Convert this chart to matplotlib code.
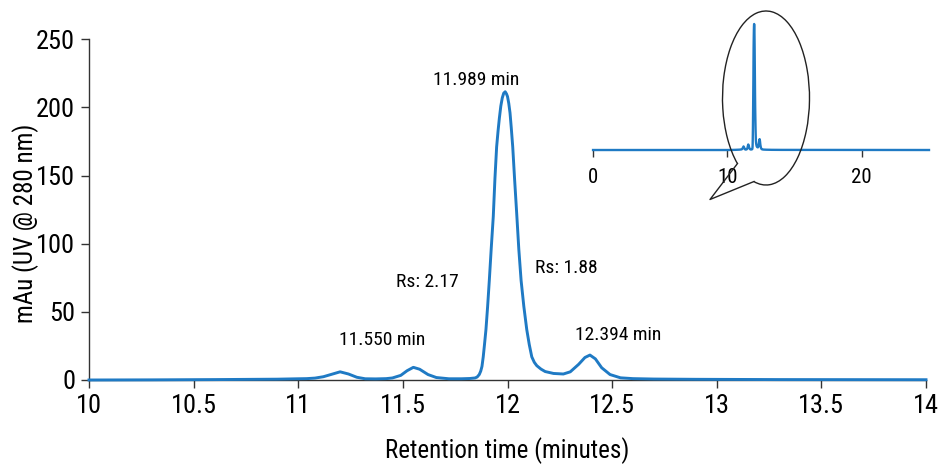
import numpy as np
import matplotlib
matplotlib.use("Agg")
import matplotlib.pyplot as plt
from matplotlib.patches import Arc
from matplotlib import font_manager

# pick a narrow sans face if one is around
names = {f.name for f in font_manager.fontManager.ttflist}
narrow = [n for n in ['DejaVu Sans Condensed', 'Liberation Sans Narrow', 'Roboto Condensed',
                      'Open Sans Condensed', 'Liberation Sans'] if n in names]
plt.rcParams['font.family'] = narrow + ['DejaVu Sans']
if 'DejaVu Sans Condensed' not in names and 'Liberation Sans Narrow' not in names:
    plt.rcParams['font.stretch'] = 'condensed'

# chromatogram trace, retention time (min) vs absorbance (mAu)
time_min = [10.0, 10.3, 10.6, 10.9, 11.0, 11.04, 11.08, 11.12, 11.16, 11.2,
            11.24, 11.28, 11.32, 11.37, 11.42, 11.45, 11.49, 11.52, 11.55, 11.58,
            11.62, 11.66, 11.72, 11.78, 11.82, 11.845, 11.855, 11.865, 11.872, 11.878,
            11.884, 11.89, 11.897, 11.905, 11.913, 11.922, 11.932, 11.94, 11.948, 11.955,
            11.961, 11.968, 11.975, 11.982, 11.989, 11.995, 12.0, 12.006, 12.012, 12.018,
            12.025, 12.034, 12.044, 12.054, 12.065, 12.078, 12.092, 12.104, 12.116, 12.128,
            12.14, 12.16, 12.18, 12.22, 12.267, 12.3, 12.34, 12.37, 12.394, 12.42,
            12.45, 12.49, 12.54, 12.6, 12.7, 12.9, 13.3, 14.0]
mau = [0.0, 0.1, 0.3, 0.6, 0.9, 1.0, 1.4, 2.4, 4.2, 6.0,
       4.4, 2.0, 0.9, 0.8, 1.0, 1.5, 3.4, 6.8, 9.3, 7.9,
       4.0, 1.8, 0.9, 0.9, 1.1, 1.5, 2.2, 4.0, 6.5, 10.0,
       17.0, 26.0, 37.0, 54.0, 73.0, 96.0, 120.0, 148.0, 171.0, 183.0,
       192.0, 201.0, 207.0, 210.5, 211.5, 210.0, 208.0, 203.0, 196.0, 185.0,
       171.0, 147.0, 122.0, 96.0, 73.0, 54.0, 37.0, 26.0, 17.0, 13.0,
       10.5, 8.0, 6.2, 4.8, 4.4, 6.0, 11.5, 16.5, 18.3, 15.5,
       9.0, 4.0, 1.6, 1.0, 0.7, 0.5, 0.3, 0.2]

# full run for the small overview plot
run_start = [0.0]
run_end = [25.0]

peak_labels = ["11.550 min", "11.989 min", "12.394 min"]
peak_label_pos = [(11.40, 29), (11.85, 220), (12.53, 33)]
rs_labels = ["Rs: 2.17", "Rs: 1.88"]
rs_label_pos = [(11.616, 72), (12.28, 82)]

line_color = '#1f7ac4'
spine_color = '#333333'

fig = plt.figure(figsize=(9.4, 4.65), dpi=100)
ax = fig.add_axes([0.0947, 0.1828, 0.8904, 0.7327])
ax.plot(time_min, mau, color=line_color, lw=2.1, clip_on=False, zorder=3,
        solid_joinstyle='round')
ax.set_xlim(10, 14)
ax.set_ylim(0, 250)
ax.set_xticks(np.arange(10, 14.01, 0.5))
ax.set_xticklabels(['10', '10.5', '11', '11.5', '12', '12.5', '13', '13.5', '14'])
ax.set_yticks([0, 50, 100, 150, 200, 250])
for s in ['top', 'right']:
    ax.spines[s].set_visible(False)
for s in ['left', 'bottom']:
    ax.spines[s].set_color(spine_color)
    ax.spines[s].set_linewidth(1.0)
ax.tick_params(axis='both', direction='out', length=6, width=1.0, color=spine_color,
               labelsize=19, pad=4)
ax.set_xlabel('Retention time (minutes)', fontsize=18, labelpad=14)
ax.set_ylabel('mAu (UV @ 280 nm)', fontsize=18)
ax.yaxis.set_label_coords(-0.06, 0.46)

for txt, (x, y) in zip(peak_labels, peak_label_pos):
    ax.text(x, y, txt, fontsize=14, ha='center', va='center')
for txt, (x, y) in zip(rs_labels, rs_label_pos):
    ax.text(x, y, txt, fontsize=14, ha='center', va='center')

# overview of the whole run
ins = fig.add_axes([0.6309, 0.6774, 0.3574, 0.271])
ins.plot(run_start + time_min + run_end, [0.0] + mau + [0.0],
         color=line_color, lw=1.7, clip_on=False)
ins.set_xlim(0, 25)
ins.set_ylim(0, 211.5)
ins.set_xticks([0, 10, 20])
ins.set_yticks([])
ins.patch.set_visible(False)
for s in ['top', 'right', 'left', 'bottom']:
    ins.spines[s].set_visible(False)
ins.tick_params(axis='x', direction='out', length=5, width=1.0, color=spine_color,
                labelsize=15, pad=8)

# callout bubble around the peak cluster, in figure pixels
ov = fig.add_axes([0, 0, 1, 1])
ov.set_xlim(0, 940)
ov.set_ylim(465, 0)
ov.axis('off')
ov.patch.set_visible(False)
ov.add_patch(Arc((766, 98), 87, 174, theta1=113.7, theta2=458.2, color='#222222', lw=1.0))
ov.plot([737.5, 710, 754], [163.5, 199.5, 181.5], color='#222222', lw=1.0)

fig.savefig('out.png', dpi=100)
